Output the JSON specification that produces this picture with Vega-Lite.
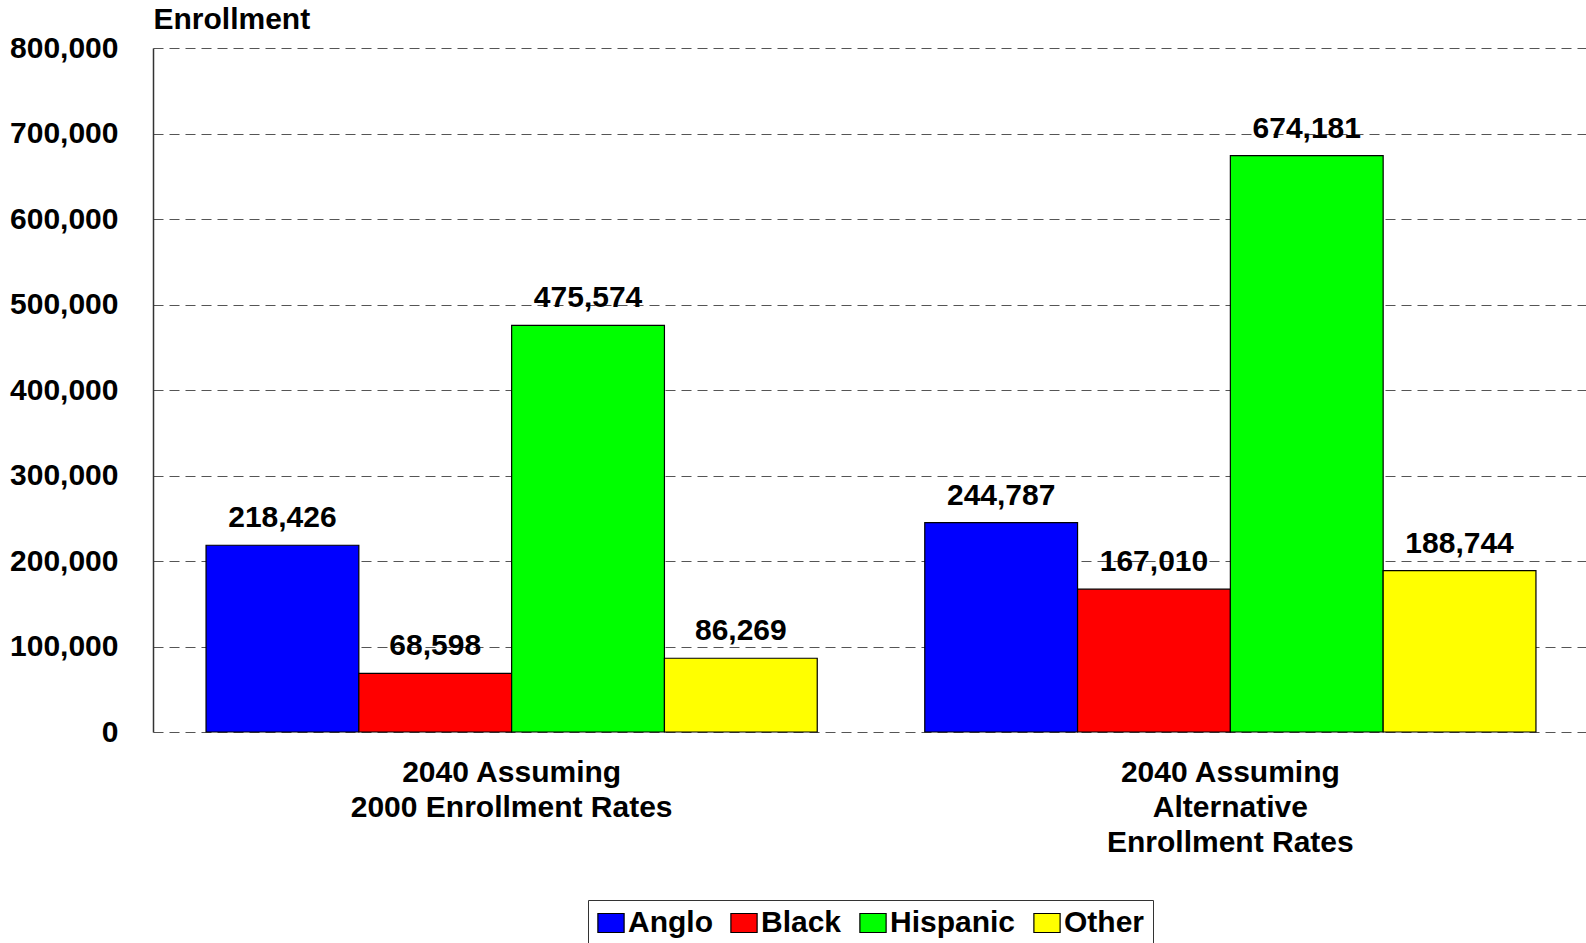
{
  "$schema": "https://vega.github.io/schema/vega-lite/v6.json",
  "width": 1436,
  "height": 684,
  "autosize": {"type": "none"},
  "padding": {"left": 153, "top": 48, "right": 0, "bottom": 211},
  "background": "white",
  "config": {
    "view": {"stroke": null},
    "font": "Liberation Sans",
    "text": {"font": "Liberation Sans"}
  },
  "data": {
    "values": [
      {"scenario": "2040 Assuming|2000 Enrollment Rates", "race": "Anglo", "enrollment": 218426},
      {"scenario": "2040 Assuming|2000 Enrollment Rates", "race": "Black", "enrollment": 68598},
      {"scenario": "2040 Assuming|2000 Enrollment Rates", "race": "Hispanic", "enrollment": 475574},
      {"scenario": "2040 Assuming|2000 Enrollment Rates", "race": "Other", "enrollment": 86269},
      {"scenario": "2040 Assuming|Alternative|Enrollment Rates", "race": "Anglo", "enrollment": 244787},
      {"scenario": "2040 Assuming|Alternative|Enrollment Rates", "race": "Black", "enrollment": 167010},
      {"scenario": "2040 Assuming|Alternative|Enrollment Rates", "race": "Hispanic", "enrollment": 674181},
      {"scenario": "2040 Assuming|Alternative|Enrollment Rates", "race": "Other", "enrollment": 188744}
    ]
  },
  "encoding": {
    "x": {
      "field": "scenario",
      "type": "nominal",
      "sort": null,
      "scale": {"paddingInner": 0.1496, "paddingOuter": 0.0738},
      "axis": {
        "title": null,
        "labelAngle": 0,
        "labelExpr": "split(datum.label, '|')",
        "labelLimit": 600,
        "labelFont": "Liberation Sans",
        "labelFontSize": 30,
        "labelFontWeight": "bold",
        "labelColor": "black",
        "labelLineHeight": 35,
        "labelBaseline": "top",
        "labelPadding": 25,
        "ticks": false,
        "domain": false,
        "grid": false
      }
    },
    "xOffset": {
      "field": "race",
      "type": "nominal",
      "scale": {"paddingInner": 0, "paddingOuter": 0}
    },
    "y": {
      "field": "enrollment",
      "type": "quantitative",
      "scale": {"domain": [0, 800000], "nice": false},
      "axis": {
        "values": [0, 100000, 200000, 300000, 400000, 500000, 600000, 700000, 800000],
        "labelExpr": "format(datum.value, ',')",
        "title": "Enrollment",
        "titleAngle": 0,
        "titleAlign": "left",
        "titleBaseline": "middle",
        "titleX": 0,
        "titleY": -29,
        "titleFont": "Liberation Sans",
        "titleFontSize": 30,
        "titleFontWeight": "bold",
        "titleColor": "black",
        "labelFont": "Liberation Sans",
        "labelFontSize": 30,
        "labelFontWeight": "bold",
        "labelColor": "black",
        "labelPadding": 35,
        "ticks": false,
        "domain": true,
        "domainColor": "#333333",
        "domainWidth": 1.5,
        "grid": true,
        "gridColor": "#555555",
        "gridDash": [10, 6],
        "gridWidth": 1.2
      }
    }
  },
  "layer": [
    {
      "mark": {"type": "bar", "stroke": "black", "strokeWidth": 1.2},
      "encoding": {
        "color": {
          "field": "race",
          "type": "nominal",
          "scale": {
            "domain": ["Anglo", "Black", "Hispanic", "Other"],
            "range": ["#0000FF", "#FF0000", "#00FF00", "#FFFF00"]
          },
          "legend": {
            "title": null,
            "orient": "none",
            "direction": "horizontal",
            "legendX": 435,
            "legendY": 852,
            "padding": 8,
            "strokeColor": "#333333",
            "fillColor": "white",
            "symbolType": "M-1.38,-1H1.38V1H-1.38Z",
            "symbolSize": 361,
            "symbolStrokeColor": "black",
            "symbolStrokeWidth": 1.2,
            "symbolOpacity": 1,
            "labelExpr": "datum.label == 'Other' ? datum.label + '\u00a0\u00a0' : datum.label",
            "labelFont": "Liberation Sans",
            "labelFontSize": 30,
            "labelFontWeight": "bold",
            "labelColor": "black",
            "labelOffset": 2,
            "columnPadding": 15,
            "labelLimit": 300
          }
        }
      }
    },
    {
      "mark": {
        "type": "text",
        "baseline": "middle",
        "dy": -27,
        "font": "Liberation Sans",
        "fontSize": 30,
        "fontWeight": "bold",
        "color": "black"
      },
      "encoding": {
        "text": {"field": "enrollment", "type": "quantitative", "format": ","}
      }
    }
  ]
}
